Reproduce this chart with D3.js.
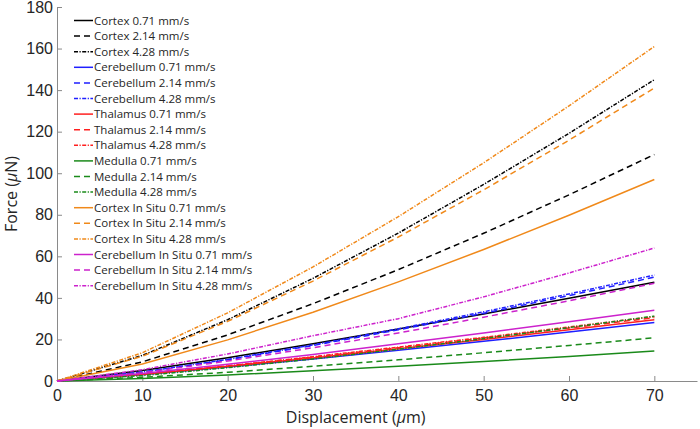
<!DOCTYPE html>
<html>
<head>
<meta charset="utf-8">
<script src="https://cdn.jsdelivr.net/npm/d3@7"></script>
<style>
  body { margin: 0; background: #fff; }
  svg { display: block; font-family: "Open Sans", "DejaVu Sans", sans-serif; }
</style>
</head>
<body>
<script>
// desplazamientos (um)
var desplazamientos = [0, 10, 20, 30, 40, 50, 60, 70];

// nombres de las series
var nombres = [
  "Cortex 0.71 mm/s", "Cortex 2.14 mm/s", "Cortex 4.28 mm/s",
  "Cerebellum 0.71 mm/s", "Cerebellum 2.14 mm/s", "Cerebellum 4.28 mm/s",
  "Thalamus 0.71 mm/s", "Thalamus 2.14 mm/s", "Thalamus 4.28 mm/s",
  "Medulla 0.71 mm/s", "Medulla 2.14 mm/s", "Medulla 4.28 mm/s",
  "Cortex In Situ 0.71 mm/s", "Cortex In Situ 2.14 mm/s", "Cortex In Situ 4.28 mm/s",
  "Cerebellum In Situ 0.71 mm/s", "Cerebellum In Situ 2.14 mm/s", "Cerebellum In Situ 4.28 mm/s"
];

// fuerzas (uN)
var fuerzas = [
  [0, 5.1, 11.2, 17.9, 25.0, 32.3, 39.8, 47.5],
  [0, 9.2, 22.2, 37.2, 53.6, 71.1, 89.6, 109],
  [0, 12.3, 29.5, 49.4, 71.2, 94.6, 119.2, 145],
  [0, 3.0, 6.7, 10.6, 14.8, 19.1, 23.6, 28.2],
  [0, 4.2, 10.2, 17.1, 24.6, 32.6, 41.1, 50],
  [0, 4.3, 10.4, 17.4, 25.1, 33.3, 41.9, 51],
  [0, 3.1, 7.0, 11.1, 15.5, 20.0, 24.7, 29.5],
  [0, 3.3, 7.2, 11.5, 16.0, 20.7, 25.5, 30.5],
  [0, 3.3, 7.3, 11.7, 16.3, 21.0, 26.0, 31],
  [0, 1.2, 2.9, 4.9, 7.1, 9.4, 11.8, 14.4],
  [0, 1.8, 4.2, 7.1, 10.2, 13.6, 17.1, 20.8],
  [0, 2.6, 6.4, 10.6, 15.3, 20.4, 25.7, 31.2],
  [0, 8.2, 19.8, 33.1, 47.7, 63.3, 79.8, 97],
  [0, 11.9, 28.7, 48.1, 69.3, 92.0, 115.9, 141],
  [0, 13.6, 32.8, 54.9, 79.1, 105.0, 132.4, 161],
  [0, 3.6, 8.1, 12.8, 17.9, 23.1, 28.5, 34],
  [0, 4.0, 9.6, 16.0, 23.1, 30.7, 38.6, 47],
  [0, 5.4, 13.0, 21.8, 30.0, 40.5, 52.0, 64]
];

var ticksX = [0, 10, 20, 30, 40, 50, 60, 70];
var ticksY = [0, 20, 40, 60, 80, 100, 120, 140, 160, 180];

// estilos
var colores = ["#000000", "#1f1fff", "#ff1f1f", "#1a8a1a", "#f0891a", "#cc22cc"];
var trazos = [null, "6,4", "4,1.5,1.2,1.5"];

var width = 700;
var height = 429;
var margen = { arriba: 7, abajo: 48, izquierda: 57, derecha: 3 };

var escalaX = d3.scaleLinear()
  .domain([0, 75])
  .range([margen.izquierda, width - margen.derecha]);

var escalaY = d3.scaleLinear()
  .domain([0, 180])
  .range([height - margen.abajo, margen.arriba]);

var svg = d3.select("body").append("svg")
  .attr("width", width)
  .attr("height", height);

// ejes
var ejeX = d3.axisBottom(escalaX).tickValues(ticksX).tickSizeInner(-5).tickSizeOuter(0).tickPadding(7);
var gX = svg.append("g")
  .attr("transform", "translate(0," + escalaY(0) + ")")
  .call(ejeX);

var ejeY = d3.axisLeft(escalaY).tickValues(ticksY).tickSizeInner(-5).tickSizeOuter(0).tickPadding(4);
var gY = svg.append("g")
  .attr("transform", "translate(" + escalaX(0) + ",0)")
  .call(ejeY);

[gX, gY].forEach(function (g) {
  g.select(".domain").attr("stroke", "#8a8a8a");
  g.selectAll(".tick line").attr("stroke", "#8a8a8a");
  g.selectAll(".tick text").attr("fill", "#262626").style("font-size", "16px");
});
gX.selectAll(".tick text").attr("dy", "0.8em");

// titulos de los ejes
var tituloX = svg.append("text")
  .attr("x", escalaX(35))
  .attr("y", 423)
  .attr("text-anchor", "middle")
  .attr("fill", "#262626")
  .style("font-size", "16px");
tituloX.append("tspan").text("Displacement (");
tituloX.append("tspan").style("font-style", "italic").text("\u03bc");
tituloX.append("tspan").text("m)");

var tituloY = svg.append("text")
  .attr("transform", "translate(17," + escalaY(90) + ") rotate(-90)")
  .attr("text-anchor", "middle")
  .attr("fill", "#262626")
  .style("font-size", "16px");
tituloY.append("tspan").text("Force (");
tituloY.append("tspan").style("font-style", "italic").text("\u03bc");
tituloY.append("tspan").text("N)");

// lineas
var linea = d3.line()
  .x(function (d, i) { return escalaX(desplazamientos[i]); })
  .y(function (d) { return escalaY(d); });

svg.append("g").selectAll("path")
  .data(fuerzas)
  .join("path")
  .attr("d", linea)
  .attr("fill", "none")
  .attr("stroke", function (d, i) { return colores[Math.floor(i / 3)]; })
  .attr("stroke-width", 1.5)
  .attr("stroke-dasharray", function (d, i) { return trazos[i % 3]; });

// leyenda
var leyenda = svg.append("g").selectAll("g")
  .data(nombres)
  .join("g")
  .attr("transform", function (d, i) { return "translate(74," + (20.5 + i * 15.6) + ")"; });

leyenda.append("line")
  .attr("x1", 0).attr("x2", 19)
  .attr("stroke", function (d, i) { return colores[Math.floor(i / 3)]; })
  .attr("stroke-width", 1.5)
  .attr("stroke-dasharray", function (d, i) { return trazos[i % 3]; });

leyenda.append("text")
  .attr("x", 20)
  .attr("dy", "0.35em")
  .attr("fill", "#262626")
  .style("font-size", "11.5px")
  .text(function (d) { return d; });
</script>
</body>
</html>
